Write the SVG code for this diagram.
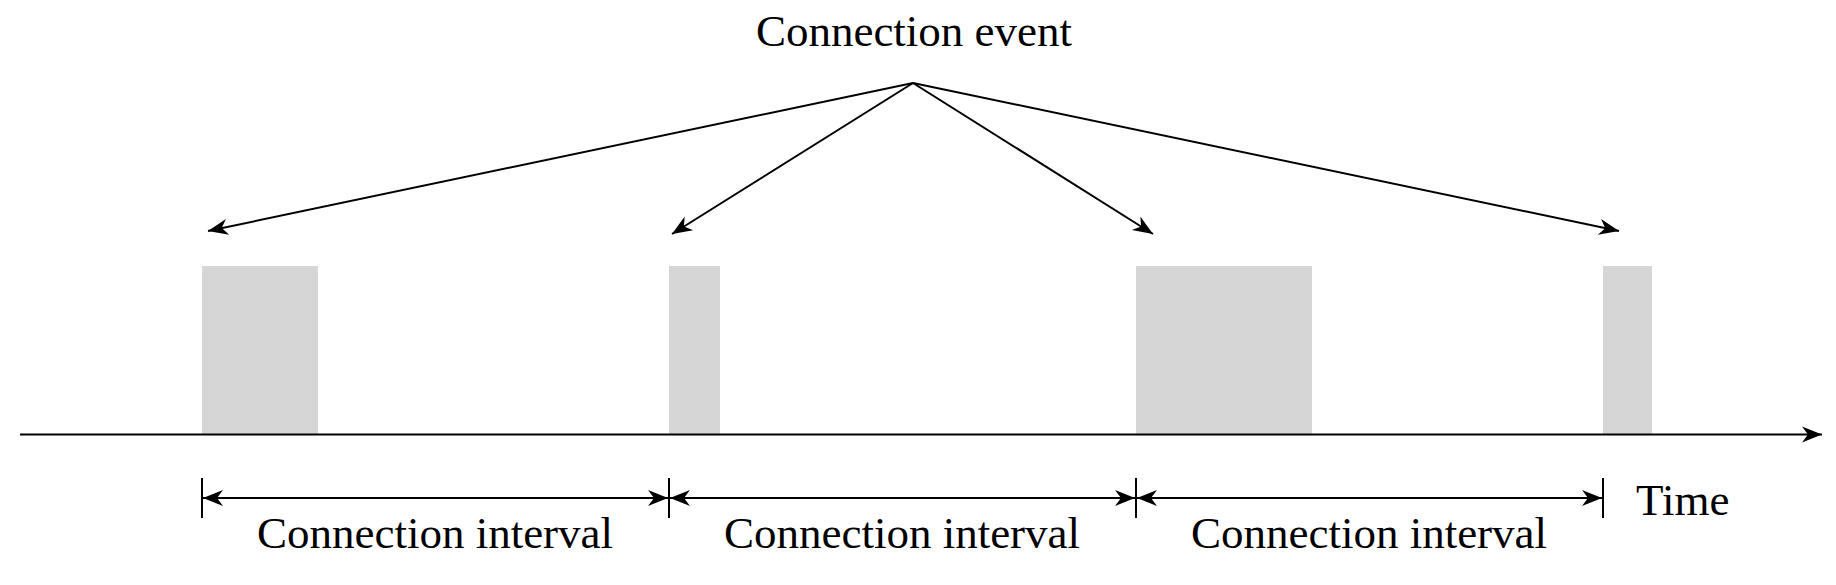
<svg xmlns="http://www.w3.org/2000/svg" width="1836" height="585" viewBox="0 0 1836 585">
<style>
.lbl{font-family:"Liberation Serif","Times New Roman",serif;font-size:45px;fill:#000}
.ln{stroke:#000;stroke-width:2;fill:none}
.blk{fill:#d6d6d6}
</style>
<defs>
<marker id="ah" markerUnits="userSpaceOnUse" markerWidth="24" markerHeight="20" viewBox="-22 -10 24 20" refX="0" refY="0" orient="auto-start-reverse">
<path d="M0,0 L-20,-8 L-14,0 L-20,8 Z" fill="#000"/>
</marker>
</defs>
<g id="event-label"><text class="lbl" x="914" y="46" text-anchor="middle">Connection event</text></g>
<g id="event1"><rect class="blk" x="202" y="266" width="116" height="168"/></g>
<g id="event2"><rect class="blk" x="669" y="266" width="51" height="168"/></g>
<g id="event3"><rect class="blk" x="1136" y="266" width="176" height="168"/></g>
<g id="event4"><rect class="blk" x="1603" y="266" width="49" height="168"/></g>
<g id="connectors">
<line class="ln" x1="913" y1="83" x2="208" y2="231" marker-end="url(#ah)"/>
<line class="ln" x1="913" y1="83" x2="672" y2="234" marker-end="url(#ah)"/>
<line class="ln" x1="913" y1="83" x2="1153" y2="234" marker-end="url(#ah)"/>
<line class="ln" x1="913" y1="83" x2="1619" y2="231" marker-end="url(#ah)"/>
<line class="ln" x1="20" y1="434.5" x2="1822" y2="434.5" marker-end="url(#ah)"/>
<line class="ln" x1="202" y1="478" x2="202" y2="518"/>
<line class="ln" x1="669" y1="478" x2="669" y2="518"/>
<line class="ln" x1="1136" y1="478" x2="1136" y2="518"/>
<line class="ln" x1="1603" y1="478" x2="1603" y2="518"/>
<line class="ln" x1="203" y1="498" x2="668" y2="498" marker-start="url(#ah)" marker-end="url(#ah)"/>
<line class="ln" x1="670" y1="498" x2="1135" y2="498" marker-start="url(#ah)" marker-end="url(#ah)"/>
<line class="ln" x1="1137" y1="498" x2="1602" y2="498" marker-start="url(#ah)" marker-end="url(#ah)"/>
</g>
<g id="interval-labels">
<text class="lbl" x="435" y="548" text-anchor="middle">Connection interval</text>
<text class="lbl" x="902" y="548" text-anchor="middle">Connection interval</text>
<text class="lbl" x="1369" y="548" text-anchor="middle">Connection interval</text>
</g>
<g id="time-label"><text class="lbl" x="1636" y="515">Time</text></g>
</svg>
